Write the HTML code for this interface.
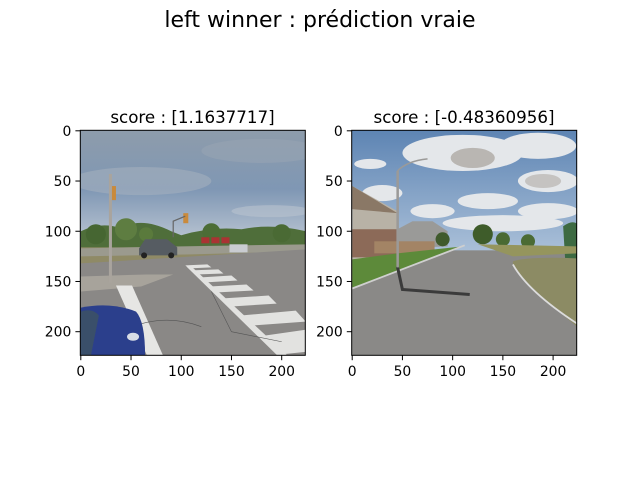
<!DOCTYPE html>
<html><head><meta charset="utf-8"><style>
html,body{margin:0;padding:0;background:#fff;}
svg{display:block;font-family:"DejaVu Sans","Liberation Sans",sans-serif;}
</style></head><body>
<svg width="640" height="480" viewBox="0 0 640 480">
<defs>
<linearGradient id="skyL" x1="0" y1="0" x2="0" y2="1"><stop offset="0" stop-color="#8e9cab"/><stop offset="0.5" stop-color="#7f97b4"/><stop offset="1" stop-color="#c2cbd6"/></linearGradient>
<linearGradient id="skyR" x1="0" y1="0" x2="0" y2="1"><stop offset="0" stop-color="#5d84b3"/><stop offset="1" stop-color="#a9bfd8"/></linearGradient>
<clipPath id="clipImg"><rect x="-0.5" y="-0.5" width="224" height="224"/></clipPath>
</defs>
<text x="320" y="27" font-size="22" text-anchor="middle">left winner : prédiction vraie</text>

<g>
<text x="192.5" y="123" font-size="16.7" text-anchor="middle">score : [1.1637717]</text>
<g transform="translate(80.8,130.8) scale(1.0045)" clip-path="url(#clipImg)">
<rect x="-1" y="-1" width="226" height="226" fill="#8a8987"/>
<rect x="-1" y="-1" width="226" height="118" fill="url(#skyL)"/>
<ellipse cx="60" cy="50" rx="70" ry="14" fill="#a9b3bf" opacity="0.5"/>
<ellipse cx="180" cy="20" rx="60" ry="12" fill="#9aa6b4" opacity="0.5"/>
<ellipse cx="190" cy="80" rx="40" ry="6" fill="#b9c3cf" opacity="0.6"/>
<path d="M0 100 Q20 90 40 97 Q60 85 90 100 L100 104 Q130 95 160 98 Q190 92 224 100 L224 118 L0 120Z" fill="#4f6e3a"/>
<circle cx="15" cy="103" r="10" fill="#466632"/>
<circle cx="45" cy="98" r="11" fill="#5e7d41"/>
<circle cx="65" cy="103" r="7" fill="#5a7a3c"/>
<circle cx="130" cy="101" r="9" fill="#4c6d36"/>
<circle cx="200" cy="102" r="9" fill="#4a6a34"/>
<rect x="0" y="116" width="224" height="16" fill="#8f8a66"/>
<path d="M0 117 L100 115 L224 113 L224 120 L110 123 L0 125Z" fill="#9b9a8e"/>
<path d="M0 132 L224 118 L224 224 L0 224Z" fill="#8a8886"/>
<path d="M0 145 L65 143 L92 143 L60 155 L0 160Z" fill="#a7a39b"/>
<path d="M58 117 L64 108 L86 108 L96 116 L96 124 L58 124Z" fill="#565c62"/>
<circle cx="63" cy="124" r="3" fill="#222"/><circle cx="90" cy="124" r="3" fill="#222"/>
<rect x="148" y="113" width="18" height="8" fill="#c9ccd1"/>
<rect x="120" y="106" width="8" height="6" fill="#a33"/><rect x="130" y="106" width="8" height="6" fill="#a33"/><rect x="140" y="106" width="8" height="6" fill="#a33"/>
<path d="M35 154 L51 154 L82 224 L66 224Z" fill="#e6e6e4"/>
<g fill="#e2e2e0">
<path d="M104 134 L126 133 L130 136 L108 137Z"/>
<path d="M110 139 L137 138 L142 142 L114 143Z"/>
<path d="M118 146 L150 144 L156 149 L122 151Z"/>
<path d="M128 155 L165 153 L172 159 L134 161Z"/>
<path d="M140 167 L187 164 L195 172 L148 175Z"/>
<path d="M158 184 L214 179 L224 190 L168 194Z"/>
<path d="M182 204 L224 198 L224 220 L196 223Z"/>
<path d="M105 135 L110 135 L206 224 L196 224Z"/>
</g>
<path d="M40 200 Q80 180 120 195 M130 160 L150 200 L200 210" stroke="#555" stroke-width="0.6" fill="none"/>
<rect x="28" y="43" width="3" height="108" fill="#a9a49d"/>
<rect x="31" y="55" width="4" height="14" fill="#c98a3c"/>
<rect x="102" y="82" width="5" height="10" fill="#c98a3c"/>
<path d="M92 106 L92 90 L104 85" stroke="#666" stroke-width="1.2" fill="none"/>
<path d="M0 176 Q30 170 55 180 Q64 190 64 224 L0 224Z" fill="#2b3f8c"/>
<path d="M0 180 Q12 176 18 184 L10 224 L0 224Z" fill="#3a4f6a"/>
<ellipse cx="52" cy="205" rx="6" ry="4" fill="#d8dde6"/>
</g>
<rect x="80.3" y="130.3" width="225" height="225" fill="none" stroke="#000" stroke-width="1"/>
</g>

<g>
<text x="464" y="123" font-size="16.7" text-anchor="middle">score : [-0.48360956]</text>
<g transform="translate(352.2,130.8) scale(1.0045)" clip-path="url(#clipImg)">
<rect x="-1" y="-1" width="226" height="226" fill="#8a8987"/>
<rect x="-1" y="-1" width="226" height="120" fill="url(#skyR)"/>
<g fill="#e4e7ea">
<ellipse cx="110" cy="22" rx="60" ry="18"/>
<ellipse cx="185" cy="15" rx="38" ry="13"/>
<ellipse cx="195" cy="50" rx="30" ry="11"/>
<ellipse cx="135" cy="70" rx="30" ry="8"/>
<ellipse cx="80" cy="80" rx="22" ry="7"/>
<ellipse cx="30" cy="62" rx="20" ry="8"/>
<ellipse cx="18" cy="33" rx="16" ry="5"/>
<ellipse cx="195" cy="80" rx="30" ry="8"/>
<ellipse cx="150" cy="92" rx="60" ry="8"/>
</g>
<ellipse cx="120" cy="27" rx="22" ry="10" fill="#b9b6b2"/>
<ellipse cx="190" cy="50" rx="18" ry="7" fill="#c5c3c1"/>
<path d="M0 55 L45 80 L45 125 L0 128Z" fill="#b8b2a6"/>
<path d="M0 55 L45 82 L0 78Z" fill="#8a7866"/>
<rect x="0" y="98" width="45" height="28" fill="#8c6a58"/>
<path d="M45 98 L60 90 L80 90 L95 100 L95 115 L45 117Z" fill="#9a9a98"/>
<rect x="22" y="110" width="60" height="12" fill="#a38465"/>
<circle cx="90" cy="108" r="7" fill="#3f5a2c"/>
<circle cx="130" cy="103" r="10" fill="#3e5c2a"/>
<circle cx="150" cy="108" r="7" fill="#4a6a33"/>
<circle cx="175" cy="110" r="7" fill="#4b6b34"/>
<path d="M210 95 Q224 85 228 100 L228 130 L212 128Z" fill="#3d6a42"/>
<path d="M0 128 L45 122 L110 115 L0 157Z" fill="#5d8a3a"/>
<path d="M125 113 L224 115 L224 122 L160 125Z" fill="#95955d"/>
<path d="M160 130 Q175 125 224 127 L224 195 Q180 160 160 135Z" fill="#8c8b64"/>
<path d="M0 157 L112 114" stroke="#cfcfcf" stroke-width="1.8"/>
<path d="M160 133 Q175 160 224 192" stroke="#dcdcdc" stroke-width="1.8" fill="none"/>
<path d="M45 135 L50 158 L117 163" stroke="#3b3b3b" stroke-width="3" fill="none"/>
<rect x="44" y="40" width="2.5" height="96" fill="#9b9a98"/>
<path d="M45 40 Q55 30 75 28" stroke="#9b9a98" stroke-width="1.5" fill="none"/>
</g>
<rect x="351.7" y="130.3" width="225" height="225" fill="none" stroke="#000" stroke-width="1"/>
</g>

<g id="ticks" font-size="13.9"></g>
<script>
const tickValues = [0, 50, 100, 150, 200];
const panels = [{x0: 80.8, y0: 130.8, name: 'left'}, {x0: 352.2, y0: 130.8, name: 'right'}];
const s = 1.0045;
const g = document.getElementById('ticks');
const NS = 'http://www.w3.org/2000/svg';
panels.forEach(p => {
  tickValues.forEach(v => {
    const x = p.x0 + v * s, y = p.y0 + v * s;
    const tx = document.createElementNS(NS, 'line');
    tx.setAttribute('x1', x); tx.setAttribute('x2', x);
    tx.setAttribute('y1', 355.3); tx.setAttribute('y2', 360.2);
    tx.setAttribute('stroke', '#000');
    
    
    g.appendChild(tx);
    const lx = document.createElementNS(NS, 'text');
    lx.setAttribute('x', x); lx.setAttribute('y', 376);
    lx.setAttribute('text-anchor', 'middle');
    lx.textContent = v;
    
    
    g.appendChild(lx);
    const ty = document.createElementNS(NS, 'line');
    ty.setAttribute('x1', p.x0 - 0.5 - 4.9); ty.setAttribute('x2', p.x0 - 0.5);
    ty.setAttribute('y1', y); ty.setAttribute('y2', y);
    ty.setAttribute('stroke', '#000');
    
    
    g.appendChild(ty);
    const ly = document.createElementNS(NS, 'text');
    ly.setAttribute('x', p.x0 - 9.5); ly.setAttribute('y', y + 5);
    ly.setAttribute('text-anchor', 'end');
    ly.textContent = v;
    
    
    g.appendChild(ly);
  });
});
</script>
</svg>
</body></html>
